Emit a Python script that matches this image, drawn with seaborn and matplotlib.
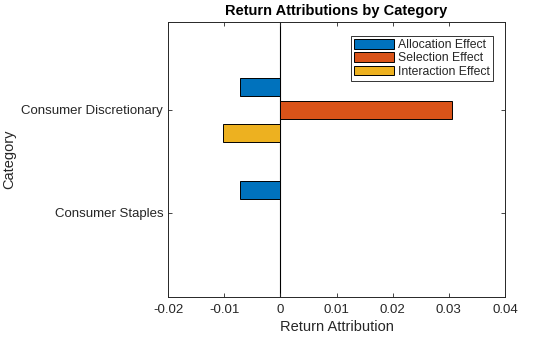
import matplotlib
matplotlib.use("Agg")
import matplotlib.pyplot as plt
import seaborn as sns
import pandas as pd

categories = ["Consumer Discretionary", "Consumer Staples"]
effects = ["Allocation Effect", "Selection Effect", "Interaction Effect"]
allocation = [-0.0071, -0.0071]
selection = [0.0306, 0.0]
interaction = [-0.0102, 0.0]
colors = ["#0072BD", "#D95319", "#EDB120"]
xticks = [-0.02, -0.01, 0, 0.01, 0.02, 0.03, 0.04]
xticklabels = ["-0.02", "-0.01", "0", "0.01", "0.02", "0.03", "0.04"]

rows = []
for name, vals in zip(effects, [allocation, selection, interaction]):
    for c, v in zip(categories, vals):
        rows.append({"Category": c, "Effect": name, "Value": v})
df = pd.DataFrame(rows)

sns.set_style("white")
plt.rcParams["font.family"] = ["Liberation Sans", "DejaVu Sans"]

fig = plt.figure(figsize=(5.6, 3.37), dpi=100)
ax = fig.add_axes([168 / 560, 1 - 297 / 337, (505 - 168) / 560, (297 - 22) / 337])

sns.barplot(data=df, y="Category", x="Value", hue="Effect", order=categories,
            hue_order=effects, palette=colors, orient="h", width=0.68, gap=0.226,
            edgecolor="black", linewidth=0.7, saturation=1, ax=ax, errorbar=None)

ax.axvline(0, color="black", linewidth=0.8, zorder=0.5)
ax.set_xlim(-0.02, 0.04)
ax.set_ylim(1.816, -0.854)
ax.set_xticks(xticks)
ax.set_xticklabels(xticklabels)
ax.tick_params(axis="both", direction="in", length=3, width=0.6, labelsize=9.5,
               top=True, right=True, bottom=True, left=True, colors="#262626",
               labelcolor="#262626")
ax.tick_params(axis="x", pad=5)
for s in ax.spines.values():
    s.set_color("#262626")
    s.set_linewidth(0.7)
    s.set_visible(True)

ax.set_xlabel("Return Attribution", fontsize=10.5, color="#262626", labelpad=3)
ax.set_ylabel("Category", fontsize=10.5, color="#262626")
ax.yaxis.set_label_coords((16 - 168) / 337, 0.5)
ax.set_title("Return Attributions by Category", fontsize=10.5, fontweight="bold",
             color="#000000", pad=5)

leg = ax.legend(loc="upper right", bbox_to_anchor=(493 / 560, 1 - 36 / 337),
                bbox_transform=fig.transFigure, fontsize=8.8, frameon=True,
                fancybox=False, edgecolor="black", handlelength=3.3,
                handleheight=0.85, handletextpad=0.3, labelspacing=0.1,
                borderpad=0.25, borderaxespad=0)
leg.get_frame().set_linewidth(0.7)

fig.savefig("out.png", dpi=100)
